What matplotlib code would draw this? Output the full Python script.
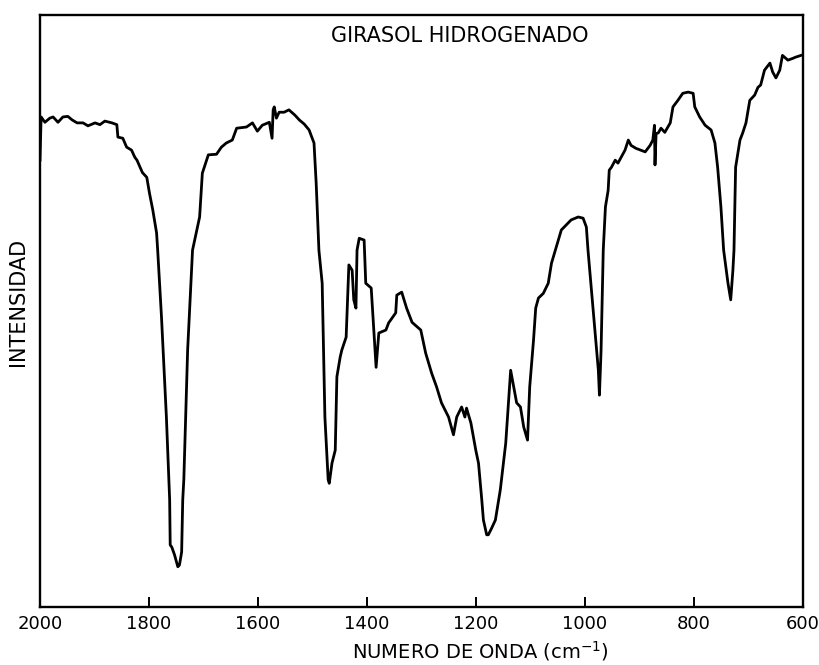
import matplotlib

matplotlib.use('Agg')
import matplotlib.pyplot as plt

# wavenumber (cm-1) and intensity (arbitrary, 0-100)
wavenumber = [
    2000, 1998, 1991, 1982, 1976, 1967, 1958, 1949, 1941, 1932, 1921, 1912, 1899, 1890,
    1881, 1868, 1859, 1857, 1848, 1841, 1832, 1826, 1822, 1812, 1804, 1799, 1793, 1790,
    1786, 1784, 1777, 1768, 1762, 1761, 1758, 1753, 1747, 1744, 1740, 1738, 1736, 1729,
    1720, 1707, 1702, 1691, 1676, 1667, 1658, 1647, 1639, 1621, 1610, 1601, 1592, 1579,
    1574, 1572, 1570, 1566, 1561, 1552, 1543, 1532, 1524, 1515, 1506, 1497, 1493, 1488,
    1482, 1477, 1471, 1469, 1464, 1458, 1455, 1449, 1446, 1438, 1433, 1427, 1424, 1420,
    1418, 1414, 1405, 1402, 1392, 1383, 1378, 1365, 1360, 1347, 1345, 1336, 1327, 1317,
    1301, 1292, 1281, 1272, 1263, 1250, 1241, 1235, 1226, 1220, 1217, 1209, 1200, 1195,
    1189, 1186, 1180, 1177, 1171, 1164, 1155, 1145, 1136, 1125, 1118, 1112, 1105, 1101,
    1094, 1090, 1085, 1076, 1067, 1061, 1054, 1043, 1025, 1012, 1003, 997, 994, 981,
    975, 973, 970, 966, 962, 957, 955, 951, 944, 939, 933, 926, 920, 915,
    906, 889, 880, 875, 872, 871, 869, 865, 860, 853, 843, 838, 829, 820,
    810, 801, 798, 789, 779, 768, 761, 756, 750, 745, 737, 732, 728, 726,
    723, 715, 710, 704, 697, 688, 682, 677, 670, 660, 655, 649, 642, 637,
    627, 618, 613, 603,
]
intensity = [
    75.5, 82.8, 81.9, 82.6, 82.8, 81.9, 82.8, 82.9, 82.3, 81.8, 81.8, 81.3, 81.8, 81.5,
    82.1, 81.8, 81.5, 79.4, 79.2, 77.7, 77.2, 76.0, 75.5, 73.4, 72.6, 69.9, 67.1, 65.4,
    63.2, 60.3, 49.0, 32.1, 18.1, 10.5, 10.1, 8.8, 6.8, 7.1, 9.3, 18.1, 21.5, 43.4,
    60.3, 65.9, 73.3, 76.4, 76.5, 77.7, 78.4, 78.9, 80.9, 81.1, 81.8, 80.4, 81.4, 81.9,
    79.2, 84.0, 84.5, 82.6, 83.6, 83.6, 84.0, 83.1, 82.3, 81.6, 80.6, 78.4, 71.6, 60.3,
    54.7, 32.1, 21.5, 20.9, 24.3, 26.5, 38.9, 42.2, 43.4, 45.6, 57.8, 56.9, 51.9, 50.5,
    60.3, 62.3, 62.0, 54.7, 53.9, 40.5, 46.3, 46.8, 48.0, 49.7, 52.7, 53.2, 50.5, 48.1,
    46.8, 42.9, 39.5, 37.2, 34.5, 32.1, 29.1, 32.1, 33.8, 32.1, 33.6, 31.1, 26.5, 24.3,
    18.1, 14.7, 12.2, 12.2, 13.3, 14.7, 19.8, 27.7, 40.0, 34.5, 33.8, 30.4, 28.2, 37.2,
    45.1, 50.5, 52.2, 53.0, 54.7, 58.1, 60.3, 63.7, 65.4, 65.9, 65.7, 64.2, 60.3, 46.3,
    40.0, 35.8, 43.4, 60.3, 67.6, 70.4, 73.8, 74.3, 75.5, 75.0, 76.0, 77.2, 78.9, 78.0,
    77.5, 76.9, 78.0, 78.9, 81.4, 74.7, 80.0, 80.1, 80.9, 80.2, 81.8, 84.5, 85.6, 86.8,
    87.0, 86.8, 84.5, 82.8, 81.4, 80.6, 78.4, 74.3, 67.6, 60.3, 54.7, 51.9, 56.9, 60.3,
    74.3, 78.9, 80.1, 81.8, 85.6, 86.5, 87.8, 88.2, 90.7, 91.9, 90.4, 89.4, 90.7, 93.2,
    92.4, 92.7, 92.9, 93.2,
]
x_ticks = [2000, 1800, 1600, 1400, 1200, 1000, 800, 600]

plt.rcParams['font.family'] = ['DejaVu Sans']

fig = plt.figure(figsize=(8.2, 6.65), dpi=100)
ax = fig.add_axes([0.0488, 0.0872, 0.930, 0.890])

ax.plot(wavenumber, intensity, color='black', lw=2.0, solid_joinstyle='round')

ax.set_xlim(2000, 600)
ax.set_ylim(0, 100)
ax.set_xticks(x_ticks)
ax.set_yticks([])
ax.tick_params(axis='x', direction='in', length=7, width=1.4, labelsize=13, pad=6)
for spine in ax.spines.values():
    spine.set_linewidth(1.7)

ax.set_xlabel('NUMERO DE ONDA (cm$^{-1}$)', fontsize=14)
ax.xaxis.set_label_coords(0.578, -0.055)
ax.set_ylabel('INTENSIDAD', fontsize=15)
ax.yaxis.set_label_coords(-0.016, 0.515)
ax.text(0.55, 0.965, 'GIRASOL HIDROGENADO', transform=ax.transAxes,
        ha='center', va='center', fontsize=15)

fig.savefig('out.png', dpi=100)
